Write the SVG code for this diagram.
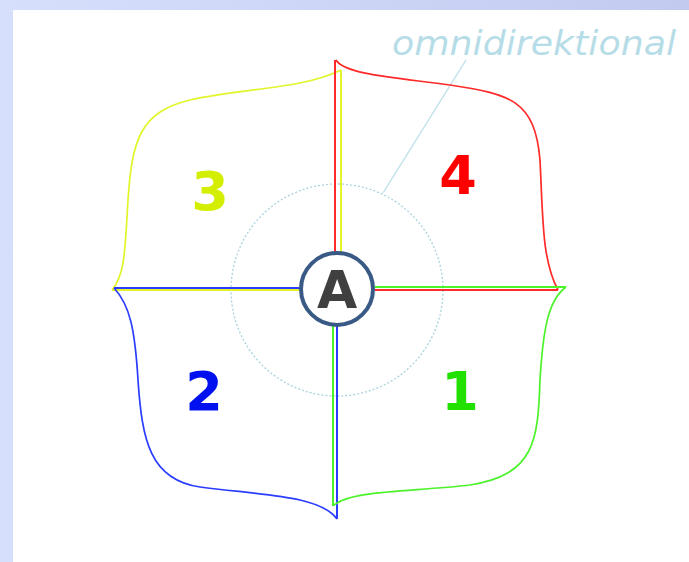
<svg xmlns="http://www.w3.org/2000/svg" width="689" height="562" viewBox="0 0 689 562">
<defs>
<linearGradient id="bg" x1="0" y1="0" x2="1" y2="0">
<stop offset="0" stop-color="#d6e0fc"/>
<stop offset="1" stop-color="#c3caf0"/>
</linearGradient>
</defs>
<style>
.lobe{fill:none;stroke-width:1.7}
.axis{stroke-width:2;fill:none}
.num{font-family:"DejaVu Sans",sans-serif;font-weight:bold;font-size:54px;text-anchor:middle}
</style>
<rect x="0" y="0" width="689" height="562" fill="url(#bg)"/>
<rect x="13" y="10" width="676" height="552" fill="#ffffff"/>
<g id="connectors">
<circle cx="337" cy="290" r="106" fill="none" stroke="#a9d2dd" stroke-width="1.3" stroke-dasharray="2 2"/>
<line x1="383" y1="193" x2="466" y2="60" stroke="#b9dfe8" stroke-width="1.3"/>
</g>
<g id="lobe3">
<path class="lobe" stroke="#e1f52a" d="M341 70 C300 90 240 88 190 100 C140 112 132 140 128 200 C125 250 125 275 112 290"/>
<line class="axis" stroke="#e1f52a" x1="341" y1="70" x2="341" y2="255"/>
<line class="axis" stroke="#e1f52a" x1="112" y1="290" x2="300" y2="290"/>
<text class="num" fill="#d4ee00" x="210" y="210">3</text>
</g>
<g id="lobe4">
<path class="lobe" stroke="#ff2a2a" d="M336 60 C345 75 400 78 450 85 C510 94 535 100 540 160 C543 220 542 260 558 290"/>
<line class="axis" stroke="#ff2a2a" x1="335" y1="60" x2="335" y2="255"/>
<line class="axis" stroke="#ff2a2a" x1="375" y1="290" x2="558" y2="290"/>
<text class="num" fill="#ff0000" x="458" y="194">4</text>
</g>
<g id="lobe2">
<path class="lobe" stroke="#2a3cff" d="M114 288 C130 305 135 330 138 380 C142 440 150 480 200 487 C260 495 320 495 337 519"/>
<line class="axis" stroke="#2a3cff" x1="114" y1="288" x2="300" y2="288"/>
<line class="axis" stroke="#2a3cff" x1="337" y1="325" x2="337" y2="519"/>
<text class="num" fill="#0010ee" x="204" y="410">2</text>
</g>
<g id="lobe1">
<path class="lobe" stroke="#4cf22a" d="M566 287 C548 300 543 330 540 380 C538 440 535 475 470 485 C410 492 350 490 333 506"/>
<line class="axis" stroke="#4cf22a" x1="375" y1="287" x2="566" y2="287"/>
<line class="axis" stroke="#4cf22a" x1="333" y1="325" x2="333" y2="506"/>
<text class="num" fill="#22e000" x="460" y="410">1</text>
</g>
<g id="nodeA">
<circle cx="337" cy="289" r="36" fill="#ffffff" stroke="#3a5a86" stroke-width="4"/>
<text x="337" y="308" font-family="DejaVu Sans, sans-serif" font-weight="bold" font-size="52" fill="#404040" text-anchor="middle">A</text>
</g>
<g id="label">
<text x="392" y="55" font-family="'DejaVu Sans',sans-serif" font-style="italic" font-size="34" fill="#b6dde7" textLength="284" lengthAdjust="spacingAndGlyphs">omnidirektional</text>
</g>
</svg>
